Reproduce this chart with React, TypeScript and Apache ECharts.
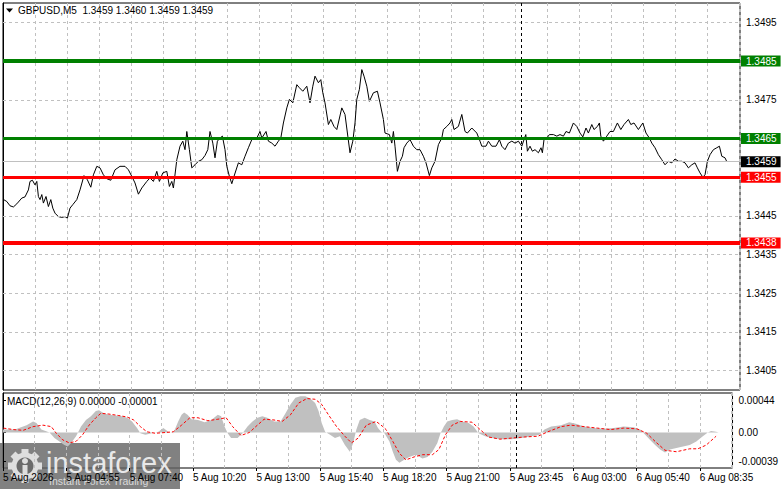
import React, { useEffect, useRef } from "react";
import * as echarts from "echarts";

const FONT = "'Liberation Sans', Arial, sans-serif";

// ---- texts ----
const headerSymbol = "GBPUSD,M5";
const headerQuotes = ["1.3459", "1.3460", "1.3459", "1.3459"];
const macdName = "MACD(12,26,9)";
const macdQuotes = ["0.00000", "-0.00001"];
const logoName = "instaforex";
const logoSlogan = "Instant Forex Trading";

// ---- time axis (positions in M5 bars) ----
const timeLabels = [
  "5 Aug 2026", "5 Aug 04:55", "5 Aug 07:40", "5 Aug 10:20", "5 Aug 13:00", "5 Aug 15:40",
  "5 Aug 18:20", "5 Aug 21:00", "5 Aug 23:45", "6 Aug 03:00", "6 Aug 05:40", "6 Aug 08:35",
];
const timeLabelBars = [0, 32, 64, 96, 128, 160, 192, 224, 256, 288, 320, 352];
const gridStepBars = 16;
const barCount = 368.5;
const sessionMarkBar = 259.3;

// ---- price axis ----
const priceRange = [1.34, 1.35];
const priceTicks = [1.3405, 1.3415, 1.3425, 1.3435, 1.3445, 1.3455, 1.3465, 1.3475, 1.3485, 1.3495];
const resistanceLevels = [1.3485, 1.3465];
const supportLevels = [1.3455, 1.3438];
const lastPrice = 1.3459;

// ---- MACD axis ----
const macdRange = [-0.00048, 0.000535];
const macdTicks = [-0.00039, 0, 0.00044];
const macdTickLabels = ["-0.00039", "0.00", "0.00044"];

// ---- close prices [bar, price] ----
const closes: number[][] = [
  [0, 1.34493], [1.9, 1.34487], [3.5, 1.34476], [5.2, 1.34473], [6.9, 1.34481], [9.4, 1.34496],
  [11, 1.34499], [12.7, 1.34517], [13.5, 1.34539], [14.7, 1.34542], [16, 1.3453], [16.9, 1.34539],
  [17.7, 1.345], [18.5, 1.34492], [19.4, 1.34505], [20.2, 1.34483], [21.5, 1.345], [22.7, 1.34474],
  [23.9, 1.34492], [24.9, 1.3447], [26, 1.34457], [27.7, 1.34448], [29.4, 1.34446], [31, 1.34448],
  [32.2, 1.34444], [33.5, 1.3447], [34.9, 1.34479], [36.9, 1.34492], [38.5, 1.34517], [40.5, 1.34554],
  [42.2, 1.34543], [43.9, 1.34524], [45.2, 1.34556], [46.9, 1.34578], [48.5, 1.34574], [50.2, 1.34556],
  [51.9, 1.34546], [53.9, 1.34542], [56, 1.34569], [58.5, 1.34578], [61, 1.34578], [62.7, 1.34569],
  [64.4, 1.34552], [66, 1.34535], [67.7, 1.34506], [69.4, 1.34522], [71.9, 1.34539], [73.5, 1.34548],
  [75.2, 1.34539], [76.9, 1.34565], [78.2, 1.34539], [79.9, 1.34561], [81.9, 1.34565], [83.2, 1.34526],
  [84.4, 1.34539], [85.2, 1.34522], [86.9, 1.34595], [88.5, 1.3463], [89.9, 1.34643], [91, 1.34621],
  [91.9, 1.34668], [93.2, 1.34621], [94.4, 1.34574], [96, 1.34582], [97.7, 1.34591], [99.4, 1.34595],
  [101, 1.34606], [102.4, 1.34621], [103.5, 1.34668], [104.9, 1.34638], [106, 1.346], [107.2, 1.34643],
  [108.5, 1.34651], [109.7, 1.34656], [111, 1.34621], [111.9, 1.34578], [113.2, 1.34552], [114.4, 1.34533],
  [115.5, 1.34552], [117.7, 1.34587], [119.4, 1.34582], [121, 1.34604], [122.7, 1.34626], [124.4, 1.34647],
  [126.9, 1.34651], [128.5, 1.34668], [129.4, 1.34651], [131.5, 1.34668], [132.7, 1.34643], [134.4, 1.34638],
  [136, 1.3463], [137.7, 1.34643], [138.9, 1.34651], [140.2, 1.3469], [141.9, 1.34729], [143.2, 1.34751],
  [144.9, 1.34742], [146.9, 1.34789], [148.2, 1.34781], [149.9, 1.34772], [151.9, 1.34785], [153.5, 1.34742],
  [154.9, 1.34785], [156, 1.34811], [157.7, 1.34794], [158.9, 1.34802], [159.9, 1.34768], [161, 1.34742],
  [162.7, 1.34686], [163.9, 1.34699], [165.5, 1.34681], [166.9, 1.34673], [169.4, 1.34729], [171, 1.34712],
  [172.4, 1.34656], [173.5, 1.34613], [174.9, 1.34643], [176, 1.3469], [176.9, 1.34751], [178.2, 1.34777],
  [179.4, 1.34828], [180.5, 1.34811], [181.9, 1.34785], [183.2, 1.34746], [185.2, 1.34768], [187.2, 1.34772],
  [188.5, 1.34742], [190.2, 1.34699], [191, 1.34664], [193.2, 1.3466], [194.4, 1.34638], [195.2, 1.34668],
  [196, 1.3463], [197.2, 1.34565], [198.5, 1.34591], [199.7, 1.34604], [200.5, 1.34626], [201.9, 1.34638],
  [203.5, 1.34647], [205.2, 1.3463], [206.9, 1.34621], [208.5, 1.34621], [210.2, 1.34604], [211.5, 1.34587],
  [213.2, 1.34554], [214.4, 1.34574], [216, 1.34591], [217.7, 1.34634], [219.4, 1.34651], [220.2, 1.34673],
  [221.9, 1.34681], [223.5, 1.3469], [224.4, 1.34699], [225.5, 1.34673], [227.7, 1.34681], [229.4, 1.34712],
  [231, 1.34668], [232.2, 1.34664], [234.4, 1.34677], [236.9, 1.34664], [238.5, 1.34643], [239.4, 1.3463],
  [241.5, 1.3463], [242.7, 1.34643], [244.4, 1.3463], [246.5, 1.3463], [248.2, 1.34647], [249.4, 1.3463],
  [251, 1.34621], [252.7, 1.34638], [254.4, 1.34643], [256, 1.34638], [257.7, 1.34643], [259.4, 1.3463],
  [260.5, 1.34647], [261.4, 1.3466], [262.2, 1.34617], [263.5, 1.3463], [264.7, 1.34617], [266, 1.34621],
  [267.7, 1.34613], [269, 1.34626], [269.7, 1.34613], [270.5, 1.34647], [271.9, 1.34651], [273.2, 1.3466],
  [275.2, 1.3466], [276.9, 1.34656], [278.5, 1.3466], [280.2, 1.34656], [281.5, 1.34668], [283.2, 1.34664],
  [285.2, 1.3469], [286.9, 1.34681], [288.5, 1.34664], [289.9, 1.34654], [291.5, 1.34677], [292.7, 1.34664],
  [294.4, 1.34686], [295.5, 1.34673], [297.2, 1.34681], [298.2, 1.3469], [298.9, 1.34656], [300.2, 1.34643],
  [301.9, 1.34656], [303.5, 1.34668], [305.2, 1.34668], [307.2, 1.3469], [308.9, 1.34673], [310.5, 1.34686],
  [312.7, 1.34699], [313.9, 1.34686], [315.5, 1.3469], [317.7, 1.34673], [319.9, 1.3469], [321.5, 1.34664],
  [323.2, 1.34651], [324.4, 1.34638], [326, 1.34626], [327.7, 1.34608], [329.4, 1.34595], [331, 1.34582],
  [332.7, 1.34591], [334.4, 1.34587], [336, 1.34597], [337.7, 1.34591], [339.4, 1.34591], [341, 1.34587],
  [342.7, 1.34574], [344.4, 1.34582], [346, 1.34587], [347.2, 1.34574], [348.5, 1.34561], [349.9, 1.3455],
  [351, 1.34556], [352.2, 1.34591], [353.5, 1.34608], [355.2, 1.34621], [356.9, 1.34626], [358.2, 1.3463],
  [359.4, 1.34604], [361, 1.346], [361.9, 1.3459],
];

// ---- MACD main values (histogram) [bar, value] ----
const macdHistogram: number[][] = [
  [0, 0.00004], [6, 0.00004], [11.9, 0.0001], [15.2, 0.00015], [16.9, 0.00013], [19.4, 0.00004],
  [23.5, 0], [26, -0.000075], [28.5, -0.00012], [31, -0.00017], [32.7, -0.00019], [34.4, -0.00014],
  [36.9, -0.00005], [39.4, 0.00008], [41.9, 0.00017], [44.4, 0.00022], [46.9, 0.00029], [48.5, 0.0003],
  [51, 0.00026], [53.5, 0.00024], [56.9, 0.00023], [60.2, 0.00022], [62.7, 0.0002], [65.2, 0.00015],
  [67.7, 0.00006], [69.4, -0.00001], [71.9, -0.00003], [75.2, -0.00001], [78.5, 0.00001], [81, 0.00006],
  [83.5, 0.00001], [86, -0.00001], [88.5, 0.00015], [90.2, 0.00024], [91.5, 0.00027], [93.2, 0.00024],
  [95.2, 0.00018], [98.5, 0.00017], [101.9, 0.00014], [105.2, 0.00017], [108.5, 0.00024], [110.2, 0.00022],
  [111.9, 0.00008], [113.5, -0.00001], [115.2, -0.000075], [118.5, -0.000075], [121, -0.00001], [123.5, 0.00008],
  [126, 0.00015], [128.5, 0.0002], [131, 0.00022], [133.5, 0.0002], [136.9, 0.00015], [140.2, 0.00015],
  [142.7, 0.00026], [145.2, 0.00038], [147.7, 0.00047], [150.2, 0.00049], [152.7, 0.00049], [155.2, 0.00046],
  [157.7, 0.0004], [159.4, 0.00029], [161, 0.00013], [162.7, 0.00001], [165.2, -0.00003], [167.7, -0.000075],
  [170.2, -0.00005], [172.7, -0.00017], [175.2, -0.00026], [176.9, -0.00014], [178.5, 0.00004], [180.2, 0.00017],
  [182.7, 0.0002], [185.2, 0.00017], [187.7, 0.00015], [189.4, 0.00006], [191, 0.00001], [192.7, -0.00001],
  [195.2, -0.00012], [196.9, -0.00026], [198.5, -0.00037], [200.2, -0.00041], [202.7, -0.00037], [205.2, -0.00033],
  [208.5, -0.0003], [211.9, -0.00035], [214.4, -0.00033], [216.9, -0.00026], [219.4, -0.00014], [221, -0.00001],
  [222.7, 0.00008], [224.4, 0.00015], [226.9, 0.00017], [229.4, 0.00018], [231.9, 0.00015], [235.2, 0.00013],
  [237.7, 0.00008], [240.2, -0.00001], [243.5, -0.00005], [246.9, -0.000075], [251.9, -0.00009], [256.9, -0.00009],
  [261.9, -0.000075], [266.9, -0.00005], [271, -0.00003], [273.5, 0.00004], [276.9, 0.00008], [281.9, 0.0001],
  [286, 0.00014], [289.4, 0.00012], [293.5, 0.00008], [298.5, 0.00006], [303.5, 0.00005], [308.5, 0.00006],
  [313.5, 0.00008], [318.5, 0.00007], [321.9, 0.00004], [324.4, -0.00003], [326.9, -0.0001], [329.4, -0.00017],
  [331.9, -0.00023], [334.4, -0.00027], [336.9, -0.00023], [340.2, -0.00021], [343.5, -0.00019], [346.9, -0.00017],
  [350.2, -0.00012], [353.5, -0.00005], [356, 0], [357.7, 0.00002], [360.2, 0.00001], [361.5, 0],
];

// ---- MACD signal line [bar, value] ----
const macdSignal: number[][] = [
  [0.2, 0.00006], [5.2, 0.00004], [10.2, 0.00003], [15.2, 0.00008], [20.2, 0.0001], [24.4, 0.00008],
  [26.9, -0.00001], [30.2, -0.0001], [33.5, -0.00014], [36.9, -0.00012], [40.2, -0.00003], [43.5, 0.0001],
  [46.9, 0.0002], [49.4, 0.00026], [53.5, 0.00025], [58.5, 0.00023], [62.7, 0.00021], [66, 0.00017],
  [69.4, 0.00008], [72.7, 0.00001], [76.9, -0.00001], [81.9, 0], [86, 0.00001], [90.2, 0.0001],
  [94.4, 0.0002], [98.5, 0.0002], [103.5, 0.00016], [108.5, 0.00018], [112.7, 0.0002], [116, 0.00008],
  [120.2, -0.00004], [124.4, 0], [128.5, 0.0001], [131.9, 0.00018], [136.9, 0.00017], [141, 0.00015],
  [145.2, 0.00024], [149.4, 0.0004], [153.5, 0.00046], [157.7, 0.00045], [161, 0.00038], [164.4, 0.00024],
  [168.5, 0.00008], [172.7, -0.00005], [176, -0.00014], [179.4, -0.000075], [183.5, 0.0001], [188.5, 0.00015],
  [191.9, 0.00008], [193.5, 0.00004], [196.9, -0.00012], [200.2, -0.00028], [203.5, -0.00037], [207.7, -0.00033],
  [211.9, -0.0003], [216.9, -0.0003], [220.2, -0.00023], [223.5, -0.00003], [226.9, 0.0001], [231, 0.00015],
  [236.9, 0.00014], [241, 0.00004], [245.2, -0.00006], [251, -0.00009], [256.9, -0.000075], [263.5, -0.00006],
  [270.2, -0.00005], [275.2, 0.00001], [281.9, 0.00008], [286.9, 0.0001], [293.5, 0.00008], [300.2, 0.00006],
  [306.9, 0.00004], [313.5, 0.00006], [320.2, 0.00005], [325.2, -0.00001], [329.4, -0.00012], [334.4, -0.00024],
  [340.2, -0.00026], [346.9, -0.00022], [351, -0.00022], [355.2, -0.00017], [360.2, -0.00005],
];

const GREEN = "#008000";
const RED = "#ff0000";
const GRID_GREY = "#c0c0c0";
const LABEL_SIZE = 10;

function boxLabel(value: number, color: string) {
  return {
    show: true,
    position: "end",
    distance: 1,
    formatter: value.toFixed(4),
    color: "#fff",
    backgroundColor: color,
    padding: [1, 4, 0, 5],
    fontSize: LABEL_SIZE,
    lineHeight: 10,
    fontFamily: FONT,
  };
}

function levelLine(value: number, color: string, width: number) {
  return {
    yAxis: value,
    lineStyle: { color, width, type: "solid" },
    label: boxLabel(value, color),
  };
}

function buildOption() {
  const gridLines = priceTicks.map((v) => ({
    yAxis: v,
    lineStyle: { color: GRID_GREY, width: 1, type: [3, 3] },
    label: { show: false },
  }));
  const lastLine = {
    yAxis: lastPrice,
    lineStyle: { color: GRID_GREY, width: 1, type: "solid" },
    label: boxLabel(lastPrice, "#000"),
  };
  const sessionLine = {
    xAxis: sessionMarkBar,
    lineStyle: { color: "#000", width: 1, type: [3, 3] },
    label: { show: false },
  };
  const levels = [
    levelLine(resistanceLevels[0], GREEN, 4),
    levelLine(resistanceLevels[1], GREEN, 3),
    levelLine(supportLevels[0], RED, 3),
    levelLine(supportLevels[1], RED, 4),
  ];

  const gearCx = 25;
  const gearCy = 466;
  const teeth = Array.from({ length: 8 }, (_, i) => ({
    type: "rect",
    x: gearCx,
    y: gearCy,
    rotation: (i * Math.PI) / 4,
    shape: { x: -3.5, y: -17, width: 7, height: 7 },
    style: { fill: "#dedede" },
  }));

  const xSplitAxis = (gridIndex: number) => ({
    type: "value",
    gridIndex,
    min: 0,
    max: barCount,
    interval: gridStepBars,
    axisLine: { show: false },
    axisTick: { show: false },
    axisLabel: { show: false },
    splitLine: { show: true, lineStyle: { color: GRID_GREY, width: 1, type: [3, 3] } },
  });

  return {
    animation: false,
    backgroundColor: "#fff",
    grid: [
      { left: 3, top: 3, width: 737, height: 387, show: true, borderColor: "#000", borderWidth: 1, backgroundColor: "#fff" },
      { left: 3, top: 393, width: 737, height: 75, show: true, borderColor: "#000", borderWidth: 1, backgroundColor: "#fff" },
    ],
    xAxis: [
      xSplitAxis(0),
      xSplitAxis(1),
      {
        type: "value",
        gridIndex: 1,
        min: 0,
        max: barCount,
        position: "bottom",
        axisLine: { show: false },
        axisTick: { show: true, customValues: timeLabelBars, length: 3, lineStyle: { color: "#000" } },
        axisLabel: {
          customValues: timeLabelBars,
          formatter: (v: number) => timeLabels[timeLabelBars.indexOf(v)] ?? "",
          align: "left",
          margin: 4,
          color: "#000",
          fontSize: LABEL_SIZE,
          fontFamily: FONT,
        },
        splitLine: { show: false },
      },
    ],
    yAxis: [
      {
        type: "value",
        gridIndex: 0,
        position: "right",
        min: priceRange[0],
        max: priceRange[1],
        axisLine: { show: true, lineStyle: { color: "#000" } },
        axisTick: { show: true, customValues: priceTicks, length: 3, lineStyle: { color: "#000" } },
        axisLabel: {
          customValues: priceTicks,
          formatter: (v: number) => v.toFixed(4),
          margin: 6,
          color: "#000",
          fontSize: LABEL_SIZE,
          fontFamily: FONT,
        },
        splitLine: { show: false },
      },
      {
        type: "value",
        gridIndex: 1,
        position: "right",
        min: macdRange[0],
        max: macdRange[1],
        axisLine: { show: true, lineStyle: { color: "#000" } },
        axisTick: { show: true, customValues: macdTicks, length: 3, lineStyle: { color: "#000" } },
        axisLabel: {
          customValues: macdTicks,
          formatter: (v: number) => {
            let best = 0;
            macdTicks.forEach((t, i) => {
              if (Math.abs(t - v) < Math.abs(macdTicks[best] - v)) best = i;
            });
            return macdTickLabels[best];
          },
          margin: 6,
          color: "#000",
          fontSize: LABEL_SIZE,
          fontFamily: FONT,
        },
        splitLine: { show: false },
      },
    ],
    series: [
      {
        type: "line",
        name: "grid",
        xAxisIndex: 0,
        yAxisIndex: 0,
        data: closes,
        showSymbol: false,
        silent: true,
        z: 1,
        lineStyle: { opacity: 0 },
        markLine: {
          silent: true,
          symbol: "none",
          precision: 6,
          label: { show: false },
          data: gridLines,
        },
      },
      {
        type: "line",
        name: "close",
        xAxisIndex: 0,
        yAxisIndex: 0,
        data: closes,
        showSymbol: false,
        silent: true,
        z: 3,
        lineStyle: { color: "#000", width: 1 },
        markLine: {
          silent: true,
          symbol: "none",
          precision: 6,
          label: { show: false },
          data: [lastLine, sessionLine, ...levels],
        },
      },
      {
        type: "line",
        name: "macd",
        xAxisIndex: 1,
        yAxisIndex: 1,
        data: macdHistogram,
        showSymbol: false,
        silent: true,
        z: 2,
        lineStyle: { width: 0, color: GRID_GREY },
        areaStyle: { color: GRID_GREY, opacity: 1 },
        markLine: {
          silent: true,
          symbol: "none",
          precision: 6,
          label: { show: false },
          data: [sessionLine],
        },
      },
      {
        type: "line",
        name: "signal",
        xAxisIndex: 1,
        yAxisIndex: 1,
        data: macdSignal,
        showSymbol: false,
        silent: true,
        z: 3,
        lineStyle: { color: RED, width: 1, type: [3, 2] },
      },
    ],
    graphic: [
      {
        type: "polygon",
        z: 100,
        shape: { points: [[6, 8.5], [13, 8.5], [9.5, 12.5]] },
        style: { fill: "#000" },
      },
      {
        type: "text",
        z: 100,
        x: 18,
        y: 10.5,
        style: {
          text: headerSymbol + "  " + headerQuotes.join(" "),
          fill: "#000",
          fontSize: LABEL_SIZE,
          fontFamily: FONT,
          verticalAlign: "middle",
        },
      },
      {
        type: "text",
        z: 100,
        x: 7,
        y: 401.5,
        style: {
          text: macdName + " " + macdQuotes.join(" "),
          fill: "#000",
          fontSize: LABEL_SIZE,
          fontFamily: FONT,
          verticalAlign: "middle",
        },
      },
      {
        type: "group",
        z: 200,
        children: [
          { type: "rect", shape: { x: 0, y: 443, width: 180, height: 46 }, style: { fill: "rgba(98,98,98,0.8)" } },
          ...teeth,
          { type: "circle", shape: { cx: gearCx, cy: gearCy, r: 13.5 }, style: { fill: "#dedede" } },
          { type: "circle", shape: { cx: gearCx, cy: gearCy, r: 8.5 }, style: { fill: "#6a6a6a" } },
          { type: "circle", shape: { cx: gearCx, cy: gearCy - 5, r: 3 }, style: { fill: "#dedede" } },
          { type: "rect", shape: { x: gearCx - 2.5, y: gearCy - 1, width: 5, height: 13 }, style: { fill: "#dedede" } },
          {
            type: "text",
            x: 46,
            y: 463,
            style: {
              text: logoName,
              fill: "#e8e8e8",
              fontSize: 29,
              fontFamily: FONT,
              verticalAlign: "middle",
            },
          },
          {
            type: "text",
            x: 49,
            y: 481,
            style: {
              text: logoSlogan,
              fill: "#dadada",
              fontSize: 10.5,
              fontFamily: FONT,
              verticalAlign: "middle",
            },
          },
        ],
      },
    ],
  };
}

export default function App() {
  const ref = useRef<HTMLDivElement>(null);
  useEffect(() => {
    if (!ref.current) return;
    const chart = echarts.init(ref.current, null, { renderer: "svg" });
    chart.setOption(buildOption() as any);
    return () => chart.dispose();
  }, []);
  return (
    <div
      ref={ref}
      style={{ position: "absolute", left: 0, top: 0, width: 781, height: 489, background: "#fff" }}
    />
  );
}
